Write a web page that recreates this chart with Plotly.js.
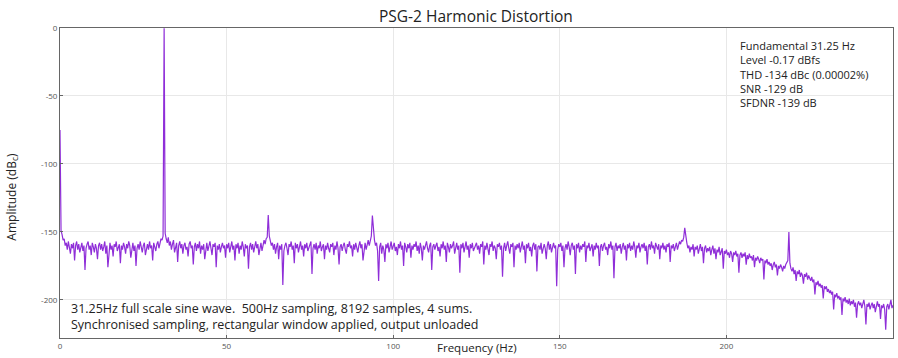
<!DOCTYPE html>
<html>
<head>
<meta charset="utf-8">
<script src="https://cdn.plot.ly/plotly-3.0.1.min.js"></script>
<style>html,body{margin:0;padding:0;background:#fff;}#chart{width:898px;height:358px;}</style>
</head>
<body>
<div id="chart"></div>
<script>
// Frequency grid: bins start at 0 Hz, step 0.3125 Hz (31.25/100), up to 250 Hz
const startFreq = 0;
const binStep = 0.3125;

// Amplitude (dB) per bin
const amplitude = [
-75, -149, -152, -156, -155, -160, -158, -163, -157, -161, -166, -159, -162, -158, -171, -160, -157, -163, -159, -165,
-161, -158, -164, -160, -178, -162, -159, -157, -163, -160, -167, -158, -161, -165, -159, -162, -170, -160, -158, -163,
-159, -164, -161, -157, -166, -160, -176, -162, -158, -163, -160, -168, -159, -161, -157, -164, -162, -159, -173, -160,
-163, -158, -161, -166, -159, -162, -157, -160, -169, -161, -158, -164, -160, -175, -162, -159, -163, -157, -161, -165,
-160, -158, -167, -161, -159, -163, -157, -162, -160, -171, -158, -161, -164, -159, -157, -162, -158, -155, -156, -153,
-0.17, -151, -155, -158, -154, -160, -157, -163, -159, -156, -165, -161, -158, -172, -160, -157, -162, -159, -166, -160,
-158, -163, -161, -168, -159, -157, -162, -160, -174, -161, -158, -164, -159, -162, -157, -166, -160, -163, -159, -170,
-161, -158, -164, -160, -157, -162, -167, -159, -161, -158, -176, -160, -163, -159, -165, -161, -158, -162, -160, -169,
-159, -162, -158, -165, -161, -157, -163, -160, -171, -159, -162, -158, -166, -160, -163, -157, -161, -168, -159, -162,
-160, -177, -161, -158, -163, -159, -165, -160, -157, -162, -159, -167, -161, -158, -164, -160, -156, -159, -155, -154,
-137.5, -153, -157, -160, -158, -163, -159, -166, -161, -158, -170, -160, -163, -159, -189, -164, -160, -158, -162, -167,
-159, -161, -157, -163, -160, -173, -158, -162, -159, -165, -161, -157, -163, -160, -168, -159, -162, -158, -164, -161,
-160, -157, -181, -162, -159, -163, -158, -166, -160, -162, -157, -164, -161, -159, -170, -160, -163, -158, -162, -165,
-159, -161, -158, -167, -160, -163, -157, -162, -174, -161, -159, -164, -160, -158, -163, -166, -159, -161, -157, -162,
-160, -168, -159, -163, -158, -161, -165, -160, -157, -162, -159, -171, -161, -158, -163, -159, -156, -160, -155, -153,
-138, -152, -156, -160, -158, -164, -186, -161, -158, -166, -160, -163, -172, -159, -162, -158, -165, -161, -157, -163,
-160, -158, -164, -161, -167, -159, -162, -157, -163, -160, -175, -158, -161, -165, -159, -162, -158, -169, -160, -163,
-159, -161, -157, -164, -160, -166, -158, -162, -171, -160, -163, -159, -157, -162, -165, -160, -158, -178, -161, -159,
-163, -160, -158, -164, -161, -168, -159, -162, -157, -163, -160, -172, -158, -161, -165, -159, -162, -160, -157, -166,
-161, -158, -163, -160, -180, -159, -162, -158, -165, -161, -157, -163, -160, -169, -159, -162, -158, -164, -161, -160,
-158, -163, -160, -166, -159, -161, -157, -174, -160, -163, -158, -162, -167, -159, -161, -157, -164, -160, -162, -170,
-159, -161, -158, -163, -160, -183, -162, -158, -164, -160, -157, -162, -166, -159, -161, -158, -176, -160, -163, -159,
-162, -158, -165, -161, -157, -163, -160, -173, -159, -162, -158, -164, -161, -168, -160, -158, -163, -159, -179, -161,
-160, -163, -158, -166, -161, -159, -162, -170, -160, -157, -163, -159, -165, -161, -158, -162, -160, -190, -163, -159,
-161, -158, -164, -160, -176, -162, -159, -163, -157, -161, -167, -160, -158, -163, -160, -181, -159, -162, -158, -165,
-160, -163, -159, -161, -157, -172, -160, -162, -158, -164, -161, -159, -168, -160, -163, -158, -162, -160, -175, -161,
-159, -164, -160, -158, -163, -161, -167, -159, -162, -157, -163, -160, -184, -161, -158, -164, -160, -162, -159, -166,
-161, -158, -163, -160, -171, -159, -162, -158, -164, -160, -163, -157, -161, -169, -160, -162, -158, -165, -161, -159,
-162, -158, -164, -160, -174, -161, -159, -163, -157, -162, -160, -166, -158, -161, -163, -159, -170, -160, -162, -158,
-163, -160, -165, -159, -161, -158, -172, -160, -162, -159, -164, -161, -158, -163, -160, -157, -159, -156, -157, -154,
-147, -155, -158, -162, -160, -165, -161, -163, -159, -168, -161, -163, -160, -166, -162, -159, -164, -161, -173, -162,
-160, -165, -162, -164, -161, -167, -163, -160, -166, -162, -170, -163, -165, -161, -167, -164, -162, -177, -164, -166,
-163, -167, -165, -169, -164, -166, -172, -165, -167, -164, -168, -166, -180, -167, -165, -169, -166, -168, -165, -174,
-167, -170, -166, -169, -168, -171, -167, -176, -169, -171, -168, -170, -173, -169, -171, -170, -185, -171, -173, -170,
-174, -172, -175, -173, -178, -174, -172, -176, -174, -182, -175, -177, -174, -176, -179, -175, -177, -174, -172, -171,
-150, -173, -177, -179, -176, -181, -178, -186, -179, -181, -178, -183, -180, -182, -188, -181, -183, -180, -185, -182,
-184, -186, -183, -187, -185, -196, -187, -189, -186, -190, -188, -191, -189, -199, -190, -192, -190, -194, -192, -195,
-193, -196, -194, -207, -196, -198, -195, -199, -197, -200, -198, -211, -199, -201, -198, -202, -200, -203, -199, -204,
-201, -203, -200, -205, -202, -213, -203, -201, -204, -202, -206, -203, -200, -205, -218, -203, -205, -202, -207, -204,
-202, -206, -203, -209, -204, -201, -205, -203, -214, -204, -206, -203, -207, -222, -205, -203, -207, -204, -200, -206,
-204
];

const xTicks = [0, 50, 100, 150, 200, 250];
const yTicks = [0, -50, -100, -150, -200];

const statsLines = [
  "Fundamental 31.25 Hz",
  "Level -0.17 dBfs",
  "THD -134 dBc (0.00002%)",
  "SNR -129 dB",
  "SFDNR -139 dB"
];
const noteLines = [
  "31.25Hz full scale sine wave.  500Hz sampling, 8192 samples, 4 sums.",
  "Synchronised sampling, rectangular window applied, output unloaded"
];

const FONT = "'Open Sans', Lato, sans-serif";

const trace = {
  type: "scatter",
  mode: "lines",
  x0: startFreq,
  dx: binStep,
  y: amplitude,
  line: {color: "#8f2ed8", width: 1.2},
  hoverinfo: "skip"
};

const layout = {
  width: 898,
  height: 358,
  margin: {l: 60, r: 5, t: 28, b: 20},
  paper_bgcolor: "#ffffff",
  plot_bgcolor: "#ffffff",
  showlegend: false,
  font: {family: FONT, color: "#333"},
  title: {
    text: "PSG-2 Harmonic Distortion",
    font: {family: FONT, size: 15.5, color: "#222"},
    x: 0.53, xanchor: "center",
    y: 0.97, yanchor: "top"
  },
  xaxis: {
    range: [0, 250],
    tickvals: xTicks,
    ticktext: xTicks.map(String),
    showgrid: true,
    gridcolor: "#e8e8e8",
    zeroline: false,
    showline: true,
    linecolor: "#666",
    linewidth: 1,
    mirror: true,
    ticks: "inside",
    ticklen: 3,
    tickcolor: "#666",
    tickfont: {family: FONT, size: 8, color: "#555"},
    automargin: false
  },
  yaxis: {
    range: [-228, 0],
    tickvals: yTicks,
    ticktext: yTicks.map(String),
    showgrid: true,
    gridcolor: "#e8e8e8",
    zeroline: false,
    showline: true,
    linecolor: "#666",
    linewidth: 1,
    mirror: true,
    ticks: "inside",
    ticklen: 3,
    tickcolor: "#666",
    tickfont: {family: FONT, size: 8, color: "#555"},
    automargin: false
  },
  annotations: [
    {
      xref: "paper", yref: "paper",
      x: 0.814, y: 0.975, xanchor: "left", yanchor: "top",
      text: statsLines.join("<br>"),
      align: "left",
      showarrow: false,
      font: {family: FONT, size: 11, color: "#222"}
    },
    {
      xref: "paper", yref: "paper",
      x: 0.011, y: 0.01, xanchor: "left", yanchor: "bottom",
      text: noteLines.join("<br>"),
      align: "left",
      showarrow: false,
      font: {family: FONT, size: 12.5, color: "#222"}
    },
    {
      xref: "paper", yref: "paper",
      x: 0.5, y: -0.062, xanchor: "center", yanchor: "bottom",
      text: "Frequency (Hz)",
      showarrow: false,
      font: {family: FONT, size: 11.5, color: "#222"}
    },
    {
      xref: "paper", yref: "paper",
      x: -0.058, y: 0.455, xanchor: "center", yanchor: "middle",
      textangle: -90,
      text: "Amplitude (dB<sub>c</sub>)",
      showarrow: false,
      font: {family: FONT, size: 12, color: "#222"}
    }
  ]
};

Plotly.newPlot("chart", [trace], layout, {displayModeBar: false, staticPlot: true});
</script>
</body>
</html>
